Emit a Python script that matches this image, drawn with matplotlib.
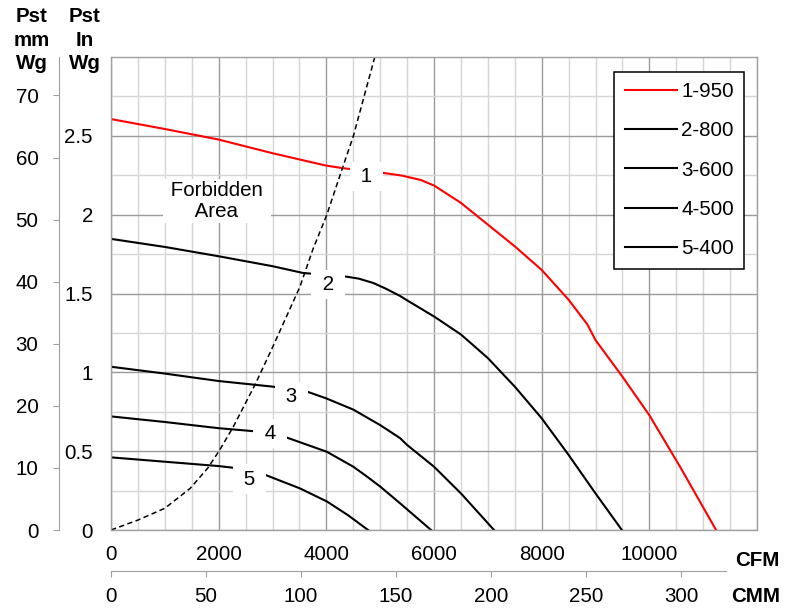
import matplotlib
matplotlib.use("Agg")
import matplotlib.pyplot as plt
import numpy as np
from matplotlib.ticker import MultipleLocator

plt.rcParams['font.family'] = ['Liberation Sans', 'DejaVu Sans']
FS = 14.8

# ---------------- data (CFM, static pressure in mm Wg) ----------------
c1_cfm = [0, 1000, 2000, 3000, 4000, 4300, 5000, 5400, 5750, 6000, 6500, 7000, 7500, 8000, 8500, 8850, 9000, 9500, 10000, 10570, 11240]
c1_mm = [66.2, 64.6, 62.9, 60.7, 58.7, 58.3, 57.6, 57.1, 56.4, 55.5, 52.7, 49.2, 45.7, 41.9, 37.1, 33.1, 30.6, 24.7, 18.5, 10.2, 0]

c2_cfm = [0, 1000, 2000, 3000, 3570, 4310, 4600, 4870, 5100, 5370, 5500, 6000, 6500, 7000, 7500, 8000, 8500, 9000, 9490]
c2_mm = [46.9, 45.6, 44.1, 42.5, 41.4, 40.9, 40.5, 39.8, 38.9, 37.7, 37.0, 34.4, 31.5, 27.7, 23.1, 18.0, 12.1, 5.9, 0]

c3_cfm = [0, 1000, 2000, 3000, 3640, 4000, 4500, 5000, 5370, 5500, 6000, 6500, 7115]
c3_mm = [26.3, 25.2, 24.0, 23.1, 22.3, 21.2, 19.4, 16.9, 14.8, 13.7, 10.2, 5.9, 0]

c4_cfm = [0, 1000, 2000, 2675, 3230, 4010, 4500, 4756, 5000, 5370, 5945]
c4_mm = [18.3, 17.4, 16.4, 15.9, 15.0, 12.6, 10.2, 8.6, 7.0, 4.3, 0]

c5_cfm = [0, 1000, 2000, 2300, 2860, 3510, 4010, 4400, 4775]
c5_mm = [11.7, 11.0, 10.3, 10.0, 8.9, 6.7, 4.6, 2.4, 0]

lim_cfm = [0, 500, 1000, 1470, 1800, 2020, 2270, 2675, 3010, 3510, 3750, 4010, 4310, 4500, 4900]
lim_mm = [0, 1.6, 3.5, 6.7, 10.0, 12.9, 16.6, 23.4, 29.6, 39.2, 45.2, 50.8, 58.6, 63.4, 76.2]

series_names = ['1-950', '2-800', '3-600', '4-500', '5-400']
series_colors = ['#ff0000', '#000000', '#000000', '#000000', '#000000']

curve_labels = ['1', '2', '3', '4', '5']
label_cfm = [4750, 4030, 3360, 2954, 2570]
label_mm = [57.0, 39.6, 21.5, 15.5, 8.2]

cfm_ticks = [0, 2000, 4000, 6000, 8000, 10000]
cmm_ticks = [0, 50, 100, 150, 200, 250, 300]
mm_ticks = [0, 10, 20, 30, 40, 50, 60, 70]
in_ticks = [0, 0.5, 1, 1.5, 2, 2.5]
in_tick_labels = ['0', '0.5', '1', '1.5', '2', '2.5']

MM_PER_IN = 25.4
CFM_PER_CMM = 35.3147
CFM_MAX = 12000
IN_MAX = 3.0

# ---------------- figure ----------------
W, H = 800, 610
fig = plt.figure(figsize=(W / 100, H / 100), dpi=100)
L, R, T, B = 111, 757, 57, 530
ax = fig.add_axes([L / W, (H - B) / H, (R - L) / W, (B - T) / H])
ax.set_xlim(0, CFM_MAX)
ax.set_ylim(0, IN_MAX * MM_PER_IN)

ax.set_xticks(cfm_ticks)
ax.set_xticklabels([str(v) for v in cfm_ticks])
ax.xaxis.set_minor_locator(MultipleLocator(500))
ax.set_yticks([v * MM_PER_IN for v in in_ticks])
ax.set_yticklabels(in_tick_labels)
ax.set_yticks([v * MM_PER_IN for v in np.arange(0.25, IN_MAX, 0.5)], minor=True)

ax.tick_params(axis='both', which='both', length=0, labelsize=FS, colors='black')
ax.tick_params(axis='y', pad=13)
ax.tick_params(axis='x', pad=10.5)
ax.grid(which='minor', color='#d6d6d6', lw=1.0)
ax.grid(which='major', color='#9a9a9a', lw=1.0)
ax.set_axisbelow(True)
for s in ax.spines.values():
    s.set_color('#a0a0a0')
    s.set_linewidth(1.0)

# curves
all_cfm = [c1_cfm, c2_cfm, c3_cfm, c4_cfm, c5_cfm]
all_mm = [c1_mm, c2_mm, c3_mm, c4_mm, c5_mm]
for xs, ys, name, col in zip(all_cfm, all_mm, series_names, series_colors):
    ax.plot(xs, ys, color=col, lw=1.5, label=name, zorder=2, solid_joinstyle='round')
ax.plot(lim_cfm, lim_mm, color='black', lw=1.1, ls=(0, (3.5, 2.2)), zorder=2)

for t, x, y in zip(curve_labels, label_cfm, label_mm):
    ax.text(x, y, ' ' + t + ' ', ha='center', va='center', fontsize=FS, zorder=3,
            bbox=dict(boxstyle='square,pad=0.25', fc='white', ec='none'))
ax.text(1969, 53.0, ' Forbidden \n Area ', ha='center', va='center', fontsize=FS,
        linespacing=1.17, zorder=3,
        bbox=dict(boxstyle='square,pad=0.1', fc='white', ec='none'))

leg = ax.legend(loc='upper right', bbox_to_anchor=((744.3 - L) / (R - L), (B - 71.7) / (B - T)),
                fontsize=FS, frameon=True, fancybox=False, edgecolor='black', framealpha=1,
                borderpad=0.5, labelspacing=0.99, handlelength=2.55, handletextpad=0.2,
                borderaxespad=0)
leg.get_frame().set_linewidth(1.1)

# mm Wg axis (outer left)
ax2 = ax.twinx()
ax2.set_ylim(ax.get_ylim())
ax2.yaxis.tick_left()
for s in ['top', 'bottom', 'right']:
    ax2.spines[s].set_visible(False)
ax2.spines['left'].set_visible(True)
ax2.spines['left'].set_position(('outward', 52 * 0.72))
ax2.spines['left'].set_color('#a0a0a0')
ax2.set_yticks(mm_ticks)
ax2.set_yticklabels([str(v) for v in mm_ticks])
ax2.tick_params(axis='y', direction='out', length=4.3, color='#a0a0a0', pad=10.5, labelsize=FS)

# CMM axis (below)
cmm_y = 571
cmm_right = 726
ax3 = fig.add_axes([L / W, (H - cmm_y) / H, (cmm_right - L) / W, 0.001])
ax3.set_xlim(0, CFM_MAX * (cmm_right - L) / (R - L) / CFM_PER_CMM)
ax3.set_xticks(cmm_ticks)
ax3.set_xticklabels([str(v) for v in cmm_ticks])
ax3.set_yticks([])
ax3.patch.set_visible(False)
for s in ['top', 'left', 'right']:
    ax3.spines[s].set_visible(False)
ax3.spines['bottom'].set_color('#a0a0a0')
ax3.tick_params(axis='x', direction='out', length=4.3, color='#a0a0a0', pad=7, labelsize=FS)

# unit titles
fig.text(32 / W, 1 - 7 / H, 'Pst\nmm\nWg', ha='center', va='top', fontsize=FS,
         fontweight='bold', linespacing=1.3)
fig.text(85 / W, 1 - 7 / H, 'Pst\nIn\nWg', ha='center', va='top', fontsize=FS,
         fontweight='bold', linespacing=1.3)
fig.text(780 / W, 1 - 560 / H, 'CFM', ha='right', va='center', fontsize=FS, fontweight='bold')
fig.text(780 / W, 1 - 597 / H, 'CMM', ha='right', va='center', fontsize=FS, fontweight='bold')

fig.savefig('out.png', dpi=100)
